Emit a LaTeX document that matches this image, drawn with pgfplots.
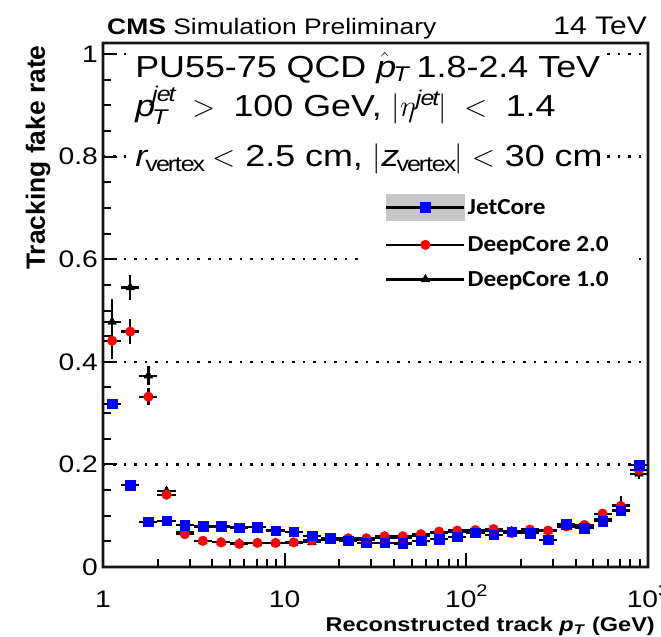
\RequirePackage{fix-cm}
\documentclass[border=0pt]{standalone}
\usepackage{fontspec}
\setmainfont{Liberation Sans}[FakeStretch=1.18]
\newfontfamily\plainsans{Liberation Sans}
\newfontfamily\carlito{Carlito}[FakeStretch=1.1]
\usepackage{amsmath}
\usepackage{pgfplots}
\usepackage{pgfplotstable}
\pgfplotsset{compat=1.18}

% fake rate per reconstructed-track pT bin (10 log bins per decade)
% x: bin centre, xm/xp: distance to lower/upper bin edge
\pgfplotstableread{
x       xm      xp      yJ     eJ     yA     eA     yB     eB
1.1220  0.1220  0.1369  0.318  0.010  0.441  0.035  0.478  0.045
1.4125  0.1536  0.1724  0.160  0.004  0.459  0.024  0.545  0.025
1.7783  0.1934  0.2170  0.088  0.003  0.332  0.016  0.373  0.018
2.2387  0.2435  0.2732  0.090  0.003  0.141  0.006  0.148  0.007
2.8184  0.3065  0.3439  0.082  0.003  0.064  0.004  0.069  0.005
3.5481  0.3859  0.4329  0.079  0.002  0.051  0.002  0.050  0.002
4.4668  0.4858  0.5450  0.079  0.002  0.048  0.002  0.048  0.002
5.6234  0.6115  0.6862  0.077  0.002  0.045  0.002  0.046  0.002
7.0795  0.7699  0.8638  0.078  0.002  0.047  0.002  0.047  0.002
8.9125  0.9692  1.0875  0.071  0.002  0.047  0.002  0.047  0.002
11.220  1.220   1.369   0.069  0.002  0.048  0.002  0.047  0.002
14.125  1.536   1.724   0.061  0.002  0.052  0.002  0.048  0.002
17.783  1.934   2.170   0.056  0.002  0.055  0.002  0.052  0.002
22.387  2.435   2.732   0.051  0.002  0.056  0.002  0.053  0.002
28.184  3.065   3.439   0.047  0.002  0.056  0.002  0.053  0.002
35.481  3.859   4.329   0.047  0.002  0.060  0.002  0.056  0.002
44.668  4.858   5.450   0.046  0.002  0.060  0.002  0.057  0.002
56.234  6.115   6.862   0.051  0.002  0.064  0.002  0.061  0.002
70.795  7.699   8.638   0.054  0.002  0.069  0.002  0.066  0.002
89.125  9.692   10.875  0.059  0.002  0.071  0.002  0.069  0.002
112.20  12.20   13.69   0.067  0.002  0.072  0.002  0.069  0.002
141.25  15.36   17.24   0.063  0.002  0.074  0.002  0.071  0.002
177.83  19.34   21.70   0.069  0.003  0.066  0.003  0.070  0.003
223.87  24.35   27.32   0.066  0.003  0.073  0.003  0.071  0.003
281.84  30.65   34.39   0.053  0.003  0.071  0.003  0.070  0.003
354.81  38.59   43.29   0.083  0.004  0.079  0.004  0.083  0.004
446.68  48.58   54.50   0.076  0.004  0.082  0.004  0.079  0.004
562.34  61.15   68.62   0.089  0.005  0.104  0.006  0.094  0.008
707.95  76.99   86.38   0.110  0.006  0.119  0.008  0.121  0.018
891.25  96.92   108.75  0.199  0.006  0.189  0.008  0.182  0.010
}\ratetable

\newcommand{\tenpow}[1]{10\raisebox{0.42em}{\fontsize{17}{17}\selectfont #1}}

\pgfplotsset{
  rateerr/.style={
    only marks,
    error bars/x dir=both, error bars/x explicit,
    error bars/y dir=both, error bars/y explicit,
    error bars/error mark=none,
    error bars/error bar style={black, line width=2.2bp},
  },
}

\begin{document}
\begin{tikzpicture}
\path[use as bounding box] (-103bp,-70bp) rectangle (558bp,567bp);
\begin{axis}[
  name=fakeaxis,
  at={(0bp,0bp)}, anchor=south west,
  scale only axis, width=545bp, height=524bp,
  xmode=log, xmin=1, xmax=1000, ymin=0, ymax=1.0215,
  axis lines=box,
  axis line style={line width=2.5bp},
  tick style={line width=2bp, black},
  major tick length=14bp, minor tick length=8bp,
  tick pos=left, tick align=inside,
  xtick={1,10,100,1000},
  xticklabels={1,10,\tenpow{2},\tenpow{3}},
  minor xtick={2,3,4,5,6,7,8,9,20,30,40,50,60,70,80,90,200,300,400,500,600,700,800,900},
  ytick={0,0.2,0.4,0.6,0.8,1},
  yticklabels={0,0.2,0.4,0.6,0.8,1},
  minor ytick={0.05,0.1,0.15,0.25,0.3,0.35,0.45,0.5,0.55,0.65,0.7,0.75,0.85,0.9,0.95},
  ymajorgrids,
  major grid style={black, line width=2.5bp, dash pattern=on 2.5bp off 8bp},
  ticklabel style={font=\fontsize{24}{28}\selectfont},
  xticklabel style={anchor=base, inner sep=0pt, yshift=-40bp},
  yticklabel style={anchor=east, inner sep=0pt, xshift=-5bp},
  xlabel={Reconstructed track \textit{p}\textsubscript{\textit{T}} (GeV)},
  xlabel style={at={(axis description cs:1.0128,-0.124)}, anchor=base east,
    inner sep=0pt, font=\bfseries\fontsize{20}{24}\selectfont},
  ylabel={Tracking fake rate},
  ylabel style={at={(axis description cs:-0.119,0.996)}, anchor=east,
    inner sep=0pt, font=\plainsans\bfseries\fontsize{26.5}{30}\selectfont},
  legend style={at={(rel axis cs:0.4807,0.7195)}, anchor=north west,
    draw=none, fill=white, inner xsep=20bp, inner ysep=4bp, row sep=14bp,
    font=\carlito\bfseries\fontsize{23}{26}\selectfont},
  legend cell align=left,
  clip=false,
]

\addplot+[rateerr, forget plot, mark=triangle*, mark size=5bp,
  mark options={black, fill=black, draw=black}]
  table[x=x, y=yB, x error minus=xm, x error plus=xp, y error=eB] {\ratetable};
\addplot+[rateerr, forget plot, mark=*, mark size=4.8bp,
  mark options={red, fill=red, draw=red}]
  table[x=x, y=yA, x error minus=xm, x error plus=xp, y error=eA] {\ratetable};
\addplot+[rateerr, forget plot, mark=square*, mark size=4.8bp,
  mark options={blue, fill=blue, draw=blue}]
  table[x=x, y=yJ, x error minus=xm, x error plus=xp, y error=eJ] {\ratetable};

% legend
\addlegendimage{legend image code/.code={
  \fill[black!22] (0bp,-13bp) rectangle (78bp,13bp);
  \draw[black, line width=2.5bp] plot coordinates {(0bp,0bp) (78bp,0bp)};
  \path plot[mark=square*, mark size=5bp, mark options={blue, fill=blue, draw=blue}] coordinates {(39bp,0bp)};
}}
\addlegendentry{JetCore}
\addlegendimage{legend image code/.code={
  \draw[black, line width=2.5bp] plot coordinates {(0bp,0bp) (78bp,0bp)};
  \path plot[mark=*, mark size=4.8bp, mark options={red, fill=red, draw=red}] coordinates {(39bp,0bp)};
}}
\addlegendentry{DeepCore 2.0}
\addlegendimage{legend image code/.code={
  \draw[black, line width=2.5bp] plot coordinates {(0bp,0bp) (78bp,0bp)};
  \path plot[mark=triangle*, mark size=5bp, mark options={black, fill=black, draw=black}] coordinates {(39bp,0bp)};
}}
\addlegendentry{DeepCore 1.0}

% selection text
\node[anchor=base west, fill=white, inner sep=1bp, font=\fontsize{30.5}{34}\selectfont]
  at (rel axis cs:0.057,0.935) {PU55-75 QCD $\hat{\mathit{p}}_{\mathit{T}}$ 1.8-2.4 TeV};
\node[anchor=base west, fill=white, inner sep=1bp, font=\fontsize{30.5}{34}\selectfont]
  at (rel axis cs:0.057,0.860) {$\mathit{p}_{\mathit{T}}^{\mathit{jet}}\;>\;$ 100 GeV, $|\eta^{\mathit{jet}}|\;<\;$ 1.4};
\node[anchor=base west, fill=white, inner sep=1bp, font=\fontsize{30.5}{34}\selectfont]
  at (rel axis cs:0.057,0.7634) {$\mathit{r}_{\mathrm{vertex}} <$ 2.5 cm, $|\mathit{z}_{\mathrm{vertex}}| <$ 30 cm};

% header
\node[anchor=base west, inner sep=0pt, font=\fontsize{22.5}{26}\selectfont]
  at (rel axis cs:0.0073,1.016) {\textbf{CMS} Simulation Preliminary};
\node[anchor=base east, inner sep=0pt, font=\fontsize{25.5}{29}\selectfont]
  at (rel axis cs:0.9982,1.016) {14 TeV};
\end{axis}
% plot frame as a filled ring, laid over the text boxes
\fill[black!92, even odd rule]
  ([shift={(-1.4bp,-1.4bp)}]fakeaxis.south west) rectangle ([shift={(1.4bp,1.4bp)}]fakeaxis.north east)
  ([shift={(1.4bp,1.4bp)}]fakeaxis.south west) rectangle ([shift={(-1.4bp,-1.4bp)}]fakeaxis.north east);
\end{tikzpicture}
\end{document}
